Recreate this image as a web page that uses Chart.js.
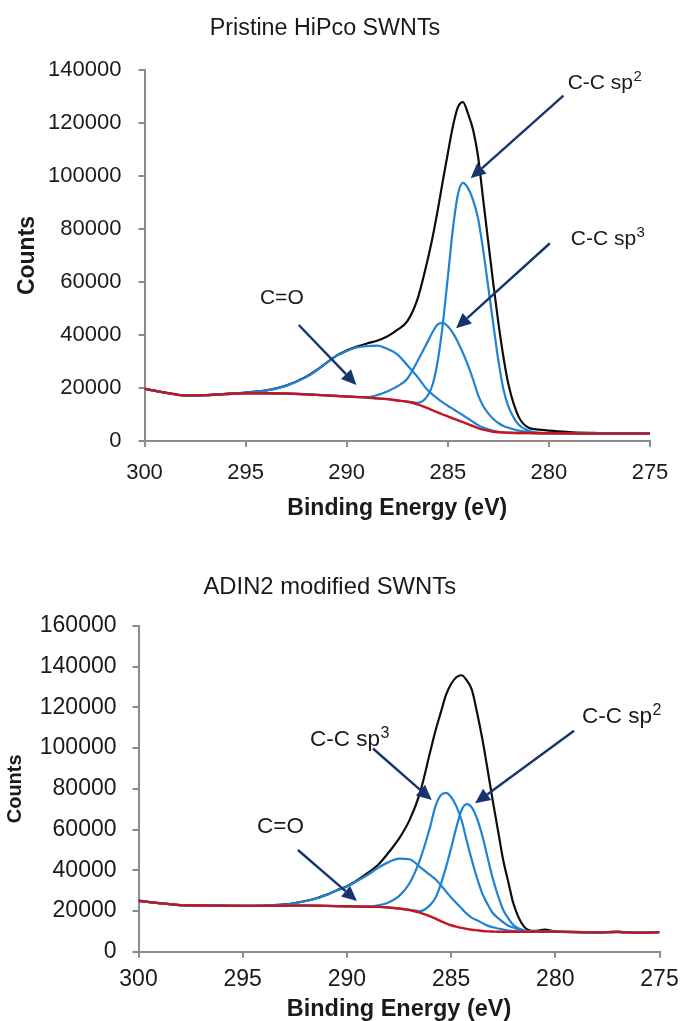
<!DOCTYPE html>
<html>
<head>
<meta charset="utf-8">
<script src="https://cdn.jsdelivr.net/npm/chart.js@4.4.1/dist/chart.umd.min.js"></script>
<style>
  html, body { margin: 0; padding: 0; background: #ffffff; }
  body { width: 681px; height: 1021px; position: relative; overflow: hidden; }
  canvas { position: absolute; left: 0; }
  #pristine { top: 0; }
  #adin2 { top: 540px; }
</style>
</head>
<body>
<canvas id="pristine" width="681" height="540"></canvas>
<canvas id="adin2" width="681" height="481"></canvas>
<script>
// Binding energy sampling (eV), shared by every curve
const energy = [300, 299, 298, 297, 296, 295, 294, 293, 292, 291.5, 291, 290.5, 290, 289.5, 289, 288.5, 288, 287.5, 287, 286.5, 286,
  285.75, 285.5, 285.25, 285, 284.75, 284.5, 284.25, 284, 283.75, 283.5, 283.25, 283, 282.75, 282.5, 282.25, 282,
  281.5, 281, 280.5, 280, 279, 278, 277, 276, 275];

const xTicks = [300, 295, 290, 285, 280, 275];
const yTicksPristine = [0, 20000, 40000, 60000, 80000, 100000, 120000, 140000];
const yTicksAdin2 = [0, 20000, 40000, 60000, 80000, 100000, 120000, 140000, 160000];

// Pristine HiPco SWNTs, C 1s
const pristineBackground = [19700, 18300, 17200, 17300, 17700, 18000, 18000, 17900, 17600, 17400, 17200, 17000, 16800, 16600, 16400, 16100, 15800, 15300, 14800, 13800, 12400,
  11600, 10800, 10000, 9300, 8500, 7800, 7100, 6400, 5600, 4900, 4300, 3900, 3500, 3300, 3200, 3100,
  3000, 3000, 2900, 2900, 2900, 2800, 2800, 2800, 2800];
const pristineSp2 = [19700, 18300, 17200, 17300, 17700, 18000, 18000, 17900, 17600, 17400, 17200, 17000, 16800, 16600, 16400, 16100, 15800, 15300, 14900, 14400, 17000,
  21300, 30100, 43900, 61700, 79900, 93000, 97400, 95400, 90900, 83900, 72000, 58100, 44100, 30400, 19500, 13000,
  6200, 3900, 3100, 2950, 2900, 2800, 2800, 2800, 2800];
const pristineSp3 = [19700, 18300, 17200, 17300, 17700, 18000, 18000, 17900, 17600, 17400, 17200, 17000, 16800, 16600, 16500, 17300, 18700, 20600, 23500, 30100, 37400,
  41100, 44000, 44600, 43300, 40800, 37300, 33200, 28500, 23200, 17300, 13200, 10400, 8300, 6800, 5700, 5000,
  3900, 3400, 3100, 2950, 2900, 2800, 2800, 2800, 2800];
const pristineCO = [19700, 18300, 17200, 17300, 17800, 18300, 19000, 20800, 24100, 26500, 29400, 32100, 34000, 35300, 35800, 36000, 34800, 32700, 28600, 24200, 19200,
  17500, 16000, 14600, 13300, 12100, 10900, 9700, 8500, 7200, 6000, 5100, 4400, 3800, 3500, 3300, 3150,
  3000, 3000, 2900, 2900, 2900, 2800, 2800, 2800, 2800];
const pristineEnvelope = [19700, 18300, 17200, 17300, 17800, 18300, 19100, 20900, 24300, 26700, 29500, 32200, 34100, 35600, 36800, 37800, 39400, 41900, 45200, 53500, 68300,
  77000, 87000, 98000, 108500, 118700, 126000, 127900, 123500, 117400, 107200, 91100, 75100, 59400, 44700, 31800, 21300,
  9200, 5000, 4300, 3900, 3400, 3100, 2900, 2900, 2900];

// ADIN2 modified SWNTs, C 1s
const adinBackground = [25000, 23800, 22900, 22700, 22600, 22500, 22500, 22600, 22700, 22600, 22500, 22400, 22300, 22200, 22100, 22000, 21700, 21200, 20500, 19200, 17300,
  16200, 15000, 13900, 13000, 12300, 11700, 11200, 10800, 10500, 10200, 10000, 9900, 9800, 9800, 9800, 9800,
  9800, 9800, 9900, 9800, 9600, 9500, 9700, 9300, 9600];
const adinSp2 = [25000, 23800, 22900, 22700, 22600, 22500, 22500, 22600, 22700, 22600, 22500, 22400, 22300, 22200, 22100, 22000, 21700, 21200, 20600, 19900, 23000,
  26500, 33000, 41300, 50800, 61000, 69500, 72500, 70800, 65200, 56800, 46300, 36000, 27500, 20500, 16300, 13000,
  10500, 9900, 9900, 9800, 9600, 9500, 9700, 9300, 9600];
const adinSp3 = [25000, 23800, 22900, 22700, 22600, 22500, 22500, 22600, 22700, 22600, 22500, 22400, 22300, 22200, 22200, 22800, 24200, 27300, 33500, 45000, 61500,
  71500, 76800, 78000, 76000, 71500, 64700, 54500, 44800, 36000, 28500, 23300, 19000, 16500, 14500, 12700, 11800,
  10400, 9900, 9900, 9800, 9600, 9500, 9700, 9300, 9600];
const adinCO = [25000, 23800, 22900, 22700, 22600, 22500, 22600, 23100, 24800, 26000, 27800, 30000, 32000, 34800, 37800, 41200, 44000, 45700, 45400, 41700, 37600,
  35600, 32800, 29700, 26600, 23900, 21300, 18700, 16600, 15400, 14100, 12800, 12000, 11400, 10900, 10400, 10100,
  9900, 9800, 9900, 9800, 9600, 9500, 9700, 9300, 9600];
const adinEnvelope = [25000, 23800, 22900, 22700, 22600, 22500, 22700, 23200, 24900, 26100, 27900, 30100, 32100, 35100, 38700, 42700, 48700, 55500, 64500, 77800, 98300,
  108500, 117300, 126000, 131500, 134800, 135800, 133300, 128500, 117200, 104400, 89500, 74100, 59500, 45000, 34000, 23300,
  12300, 10200, 10800, 10000, 9700, 9500, 9700, 9300, 9600];

// Peak assignments: label anchors and arrow ends in (eV, counts)
const pristineNotes = {
  labels: [
    { text: 'C-C sp', sup: '2', at: [279.07, 133000] },
    { text: 'C-C sp', sup: '3', at: [278.92, 73970] },
    { text: 'C=O', sup: '', at: [294.29, 51520] }
  ],
  arrows: [
    { from: [279.28, 130300], to: [283.87, 99140] },
    { from: [279.95, 74610], to: [284.59, 42530] },
    { from: [292.37, 43780], to: [289.52, 21130] }
  ]
};
const adinNotes = {
  labels: [
    { text: 'C-C sp', sup: '3', at: [291.77, 100800] },
    { text: 'C-C sp', sup: '2', at: [278.72, 112090] },
    { text: 'C=O', sup: '', at: [294.31, 58060] }
  ],
  arrows: [
    { from: [288.75, 99810], to: [285.93, 74510] },
    { from: [279.1, 108560], to: [283.85, 72900] },
    { from: [292.35, 49950], to: [289.52, 24900] }
  ]
};

const FONT = '"Liberation Sans", Arial, Helvetica, sans-serif';
const AXIS = '#8c8c8c';
const TEXT = '#1a1a1a';
const BLACK = '#0d0d0d';
const BLUE = '#1f82d2';
const RED = '#c8141e';
const NAVY = '#17356b';

function pairs(values) {
  return energy.map((e, i) => ({ x: e, y: values[i] }));
}

function line(values, color, width) {
  return {
    data: pairs(values),
    borderColor: color,
    borderWidth: width,
    pointRadius: 0,
    fill: false,
    cubicInterpolationMode: 'monotone'
  };
}

function notesPlugin(notes, textSize) {
  return {
    id: 'peakNotes',
    afterDatasetsDraw(chart) {
      const { ctx, scales: { x, y } } = chart;
      ctx.save();
      ctx.strokeStyle = NAVY;
      ctx.fillStyle = NAVY;
      ctx.lineWidth = 2.4;
      ctx.lineCap = 'butt';
      const hl = 15, hw = 7;
      for (const a of notes.arrows) {
        const x0 = x.getPixelForValue(a.from[0]), y0 = y.getPixelForValue(a.from[1]);
        const x1 = x.getPixelForValue(a.to[0]), y1 = y.getPixelForValue(a.to[1]);
        const ang = Math.atan2(y1 - y0, x1 - x0);
        const bx = x1 - hl * Math.cos(ang), by = y1 - hl * Math.sin(ang);
        ctx.beginPath();
        ctx.moveTo(x0, y0);
        ctx.lineTo(bx, by);
        ctx.stroke();
        ctx.beginPath();
        ctx.moveTo(x1, y1);
        ctx.lineTo(bx + hw * Math.sin(ang), by - hw * Math.cos(ang));
        ctx.lineTo(bx - hw * Math.sin(ang), by + hw * Math.cos(ang));
        ctx.closePath();
        ctx.fill();
      }
      ctx.fillStyle = TEXT;
      ctx.textAlign = 'left';
      ctx.textBaseline = 'alphabetic';
      for (const l of notes.labels) {
        const px = x.getPixelForValue(l.at[0]), py = y.getPixelForValue(l.at[1]);
        ctx.font = textSize + 'px ' + FONT;
        ctx.fillText(l.text, px, py);
        if (l.sup) {
          const w = ctx.measureText(l.text).width;
          ctx.font = Math.round(textSize * 0.72) + 'px ' + FONT;
          ctx.fillText(l.sup, px + w + 0.5, py - textSize * 0.36);
        }
      }
      ctx.restore();
    }
  };
}

function buildChart(id, opt) {
  const tickFont = { family: FONT, size: opt.tickSize };
  const axisLine = { color: AXIS, width: 2 };
  const marks = { drawOnChartArea: false, drawTicks: true, tickLength: 6, color: AXIS, lineWidth: 2 };
  return new Chart(document.getElementById(id), {
    type: 'line',
    data: {
      datasets: [
        line(opt.background, RED, 2.4),
        line(opt.sp2, BLUE, 2.2),
        line(opt.sp3, BLUE, 2.2),
        line(opt.co, BLUE, 2.2),
        line(opt.envelope, BLACK, 2.2)
      ]
    },
    options: {
      responsive: false,
      animation: false,
      devicePixelRatio: 1,
      events: [],
      layout: { padding: { left: 0, right: opt.rightPad, top: 0, bottom: 0 } },
      plugins: {
        legend: { display: false },
        tooltip: { enabled: false },
        title: {
          display: true,
          text: opt.title,
          color: TEXT,
          font: { family: FONT, size: opt.titleSize, weight: 'normal', lineHeight: 1.2 },
          padding: opt.titlePad
        }
      },
      scales: {
        x: {
          type: 'linear',
          min: 275,
          max: 300,
          reverse: true,
          afterBuildTicks: s => { s.ticks = xTicks.map(v => ({ value: v })); },
          afterFit: s => { s.height = opt.xAxisHeight; s.paddingLeft = 0; s.paddingRight = 0; },
          ticks: { font: tickFont, color: TEXT, padding: opt.xTickPad, maxRotation: 0, autoSkip: false, callback: v => String(v) },
          grid: marks,
          border: axisLine,
          title: {
            display: true,
            text: 'Binding Energy (eV)',
            color: TEXT,
            font: { family: FONT, size: opt.xTitleSize, weight: 'bold', lineHeight: 1 },
            padding: { top: 0, bottom: opt.xTitlePad }
          }
        },
        y: {
          min: 0,
          max: opt.yMax,
          afterBuildTicks: s => { s.ticks = opt.yTicks.map(v => ({ value: v })); },
          afterFit: s => { s.width = opt.yAxisWidth; s.paddingTop = 0; s.paddingBottom = 0; },
          ticks: { font: tickFont, color: TEXT, padding: opt.yTickPad, autoSkip: false, callback: v => String(v) },
          grid: marks,
          border: axisLine,
          title: {
            display: true,
            text: 'Counts',
            color: TEXT,
            font: { family: FONT, size: opt.yTitleSize, weight: 'bold', lineHeight: 1 },
            padding: { top: opt.yTitlePad, bottom: 0 }
          }
        }
      }
    },
    plugins: [notesPlugin(opt.notes, opt.noteSize)]
  });
}

buildChart('pristine', {
  title: 'Pristine HiPco SWNTs',
  background: pristineBackground, sp2: pristineSp2, sp3: pristineSp3, co: pristineCO, envelope: pristineEnvelope,
  yMax: 140000, yTicks: yTicksPristine, notes: pristineNotes,
  tickSize: 22, titleSize: 23.3, xTitleSize: 23, yTitleSize: 23, noteSize: 21,
  titlePad: { top: 15, bottom: 27 },
  rightPad: 31, yAxisWidth: 144.5, xAxisHeight: 99,
  xTickPad: 13, yTickPad: 17, xTitlePad: 19.5, yTitlePad: 16.5
});

buildChart('adin2', {
  title: 'ADIN2 modified SWNTs',
  background: adinBackground, sp2: adinSp2, sp3: adinSp3, co: adinCO, envelope: adinEnvelope,
  yMax: 160000, yTicks: yTicksAdin2, notes: adinNotes,
  tickSize: 23, titleSize: 23.8, xTitleSize: 23.5, yTitleSize: 20, noteSize: 22.5,
  titlePad: { top: 32.7, bottom: 24.7 },
  rightPad: 21.5, yAxisWidth: 138.5, xAxisHeight: 69.3,
  xTickPad: 8, yTickPad: 16, xTitlePad: 0, yTitlePad: 5
});
</script>
</body>
</html>
